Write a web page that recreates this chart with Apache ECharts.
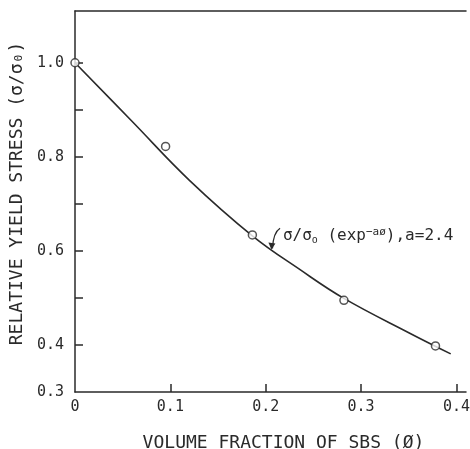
<!DOCTYPE html>
<html>
<head>
<meta charset="utf-8">
<script src="https://cdn.jsdelivr.net/npm/echarts@6/dist/echarts.min.js"></script>
<style>
  html, body { margin: 0; padding: 0; background: #fff; }
  #main { width: 470px; height: 449px; }
</style>
</head>
<body>
<div id="main"></div>
<script>
// measured points (volume fraction vs relative yield stress)
var phi = [0, 0.095, 0.186, 0.282, 0.378];
var relStress = [1.0, 0.822, 0.634, 0.495, 0.398];

// fitted curve sigma/sigma0 = exp(-a*phi), a = 2.4
var fitPhi = [0, 0.06, 0.12, 0.186, 0.236, 0.282, 0.351, 0.394];
var fitStress = [1.0, 0.875, 0.75, 0.632, 0.560, 0.499, 0.425, 0.381];

var xTicks = [0.1, 0.2, 0.3, 0.4];
var xLabels = [0, 0.1, 0.2, 0.3, 0.4];
var yTicks = [0.4, 0.5, 0.6, 0.7, 0.8, 0.9, 1.0];
var yLabels = [0.3, 0.4, 0.6, 0.8, 1.0];

var ink = '#2a2a2a';
var font = 'DejaVu Sans Mono';

var chartDom = document.getElementById('main');
var myChart = echarts.init(chartDom);

function pairs(xs, ys) {
  var out = [];
  for (var i = 0; i < xs.length; i++) out.push([xs[i], ys[i]]);
  return out;
}

var option = {
  animation: false,
  backgroundColor: '#fff',
  grid: { left: 75, right: 4, top: 11, bottom: 57, containLabel: false, outerBoundsMode: 'none' },
  xAxis: [
    {
      type: 'value',
      min: 0,
      max: 0.41,
      name: 'VOLUME FRACTION OF SBS (Ø)',
      nameLocation: 'middle',
      nameGap: 42,
      nameTextStyle: { fontFamily: font, fontSize: 18, color: ink, padding: [0, 0, 0, 26] },
      axisLine: { lineStyle: { color: ink, width: 1.5 } },
      axisTick: { inside: true, length: 8, customValues: xTicks, lineStyle: { color: ink, width: 1.5 } },
      axisLabel: {
        customValues: xLabels,
        fontFamily: font, fontSize: 15, color: ink, margin: 8,
        formatter: function (v) { return v === 0 ? '0' : v.toFixed(1); }
      },
      splitLine: { show: false }
    },
    {
      type: 'value',
      position: 'top',
      min: 0,
      max: 0.41,
      axisLine: { show: true, lineStyle: { color: ink, width: 1.5 } },
      axisTick: { show: false },
      axisLabel: { show: false },
      splitLine: { show: false }
    }
  ],
  yAxis: {
    type: 'value',
    min: 0.3,
    max: 1.11,
    name: 'RELATIVE YIELD STRESS (σ/σ₀)',
    nameLocation: 'middle',
    nameGap: 46,
    nameTextStyle: { fontFamily: font, fontSize: 18, color: ink, padding: [0, 0, 0, 16] },
    axisLine: { show: true, lineStyle: { color: ink, width: 1.5 } },
    axisTick: { show: true, inside: true, length: 8, customValues: yTicks, lineStyle: { color: ink, width: 1.5 } },
    axisLabel: {
      customValues: yLabels,
      fontFamily: font, fontSize: 15, color: ink, margin: 11,
      formatter: function (v) { return v.toFixed(1); }
    },
    splitLine: { show: false }
  },
  series: [
    {
      name: 'fit',
      type: 'line',
      data: pairs(fitPhi, fitStress),
      smooth: 0.4,
      showSymbol: false,
      lineStyle: { color: ink, width: 1.6 },
      z: 2
    },
    {
      name: 'data',
      type: 'scatter',
      data: pairs(phi, relStress),
      symbol: 'circle',
      symbolSize: 8,
      itemStyle: { color: '#fff', borderColor: ink, borderWidth: 1.5 },
      z: 3
    }
  ]
};

myChart.setOption(option);

// annotation: label with an arrow pointing at the curve
var tp = myChart.convertToPixel({ gridIndex: 0 }, [0.218, 0.632]);
var a0 = myChart.convertToPixel({ gridIndex: 0 }, [0.215, 0.648]);
var a1 = myChart.convertToPixel({ gridIndex: 0 }, [0.207, 0.605]);

myChart.setOption({
  graphic: [
    {
      type: 'text',
      x: tp[0],
      y: tp[1],
      style: {
        text: '{m|σ/σ}{s|o}{m| (exp}{u|−aø}{m|),a=2.4}',
        fill: ink,
        verticalAlign: 'middle',
        rich: {
          m: { fontFamily: font, fontSize: 16, color: ink },
          s: { fontFamily: font, fontSize: 10, color: ink, verticalAlign: 'bottom', padding: [8, 0, 0, 0] },
          u: { fontFamily: font, fontSize: 11, color: ink, verticalAlign: 'top', padding: [0, 0, 8, 0] }
        }
      }
    },
    {
      type: 'bezierCurve',
      shape: {
        x1: a0[0], y1: a0[1],
        x2: a1[0], y2: a1[1],
        cpx1: a1[0] + 1, cpy1: a0[1] + 4
      },
      style: { stroke: ink, lineWidth: 1.3, fill: null }
    },
    {
      type: 'polygon',
      shape: {
        points: [[a1[0] - 1, a1[1] + 1], [a1[0] - 4, a1[1] - 6], [a1[0] + 3, a1[1] - 5]]
      },
      style: { fill: ink }
    }
  ]
});
</script>
</body>
</html>
